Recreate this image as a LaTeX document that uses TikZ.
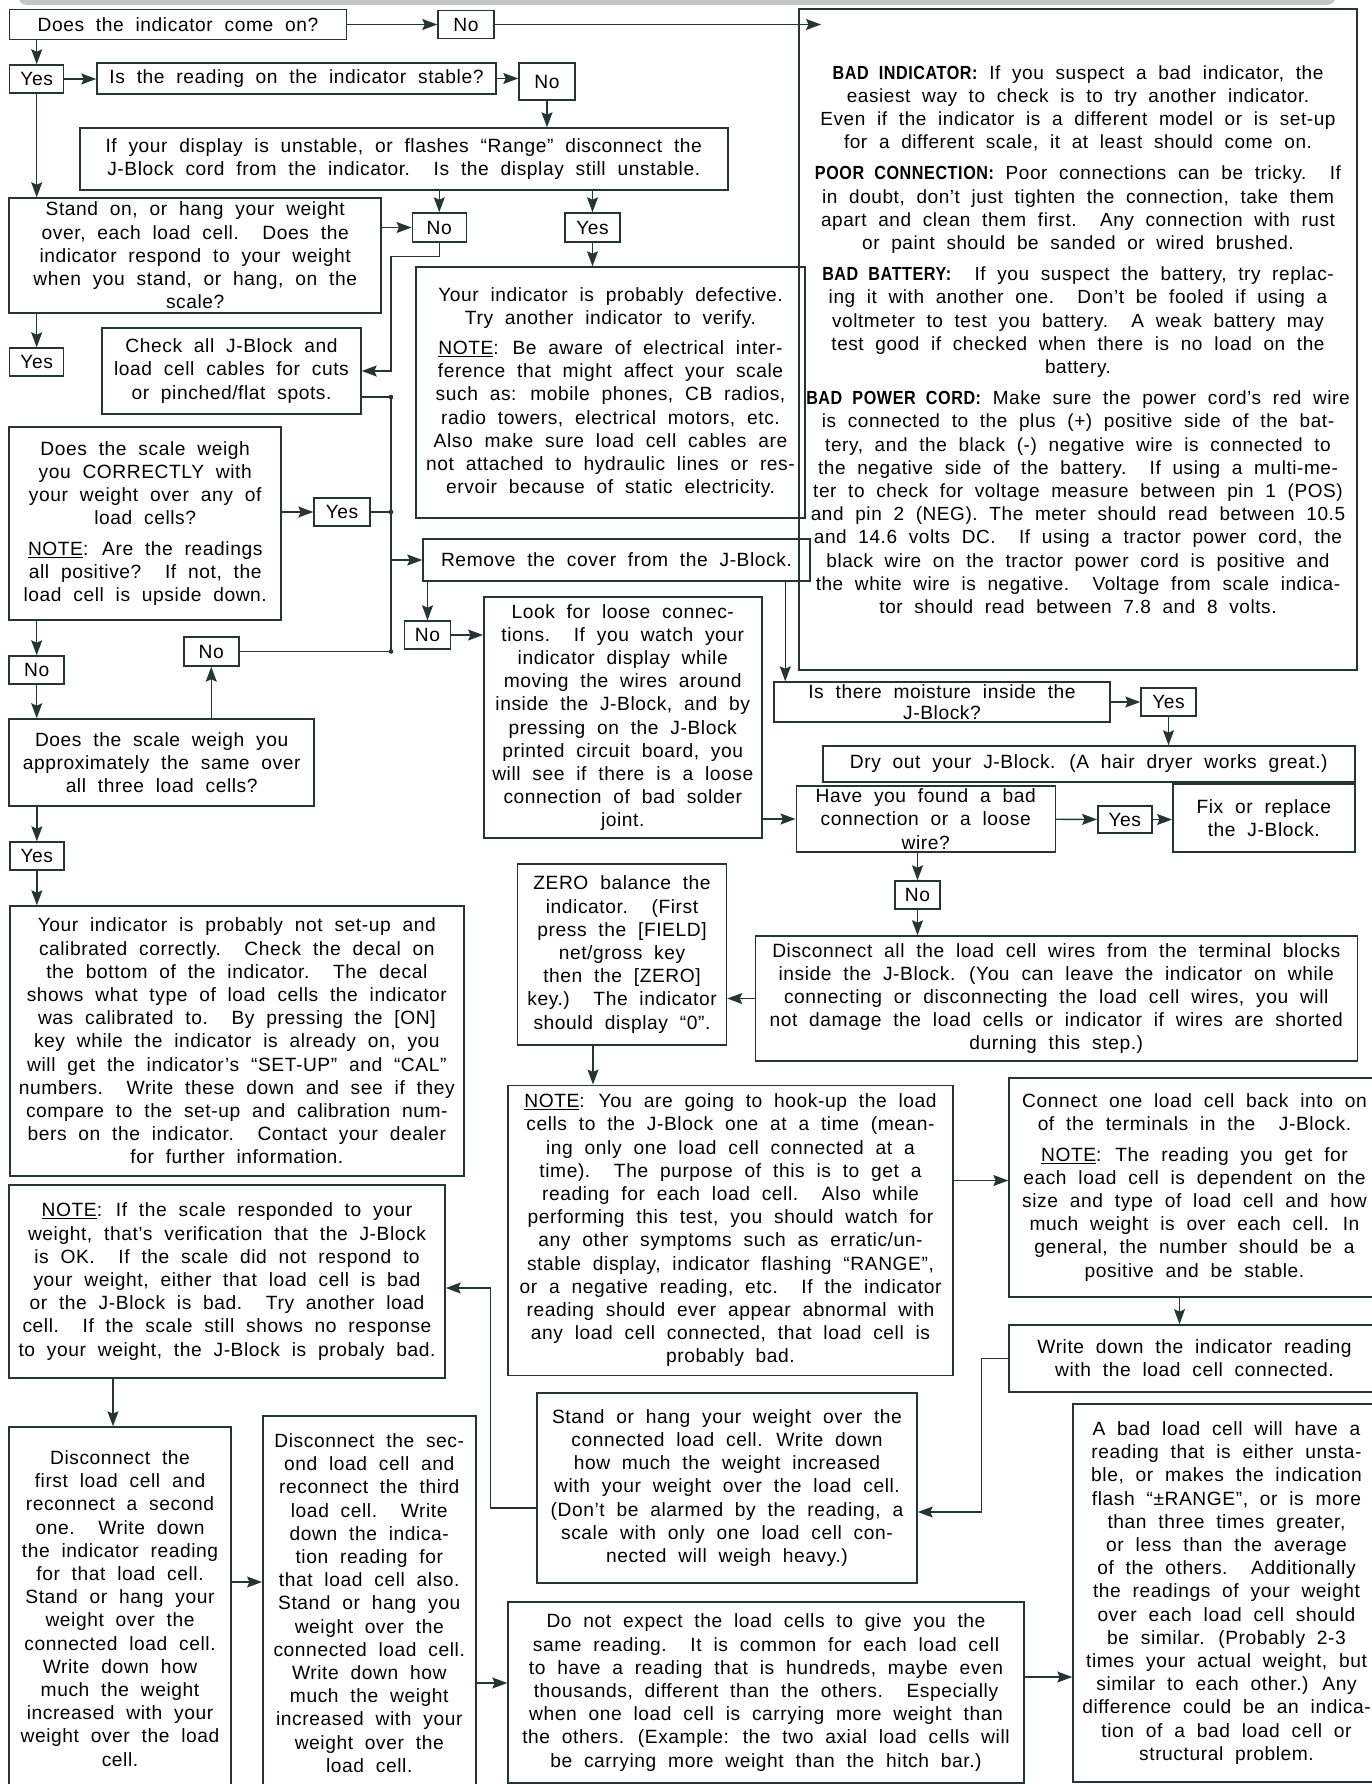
\documentclass[tikz,border=0pt]{standalone}
\usepackage{fontspec}
\setmainfont{Liberation Sans}[LetterSpace=3,WordSpace=2]
\newfontfamily\headfont{Liberation Sans}[FakeStretch=0.85,LetterSpace=3,WordSpace=2]
\usetikzlibrary{arrows.meta}
\definecolor{ink}{HTML}{263434}
\definecolor{barfill}{HTML}{C4C6C6}
\newcommand{\nt}{\underline{NOTE}}
\newcommand{\hd}[1]{{\headfont\bfseries #1}}

\begin{document}
\begin{tikzpicture}[x=1pt,y=-1pt,
  box/.style={draw=ink,line width=1.5pt,inner sep=0pt,align=center,
    font=\fontsize{19.2}{23.2}\selectfont},
  sz/.style 2 args={minimum width=#1pt,minimum height=#2pt},
  flow/.style={ink,line width=1.3pt,-{Stealth[length=15pt,width=11pt,inset=2.5pt]}},
  wire/.style={ink,line width=1.3pt}]
\useasboundingbox (0,0) rectangle (1372,1784);
\fill[barfill,rounded corners=9pt] (18,-20) rectangle (1336,5);

\node[box,sz={337}{30}] (come) at (178,24.5) {Does the indicator come on?};
\node[box,sz={56}{28}] (noon) at (466,24.5) {No};
\node[box,sz={558}{661},font=\fontsize{19}{23.2}\selectfont] (tips) at (1078,339.5)
  {\hd{BAD INDICATOR:} If you suspect a bad indicator, the\\
  easiest way to check is to try another indicator.\\
  Even if the indicator is a different model or is set-up\\
  for a different scale, it at least should come on.\\[8pt]
  \hd{POOR CONNECTION:} Poor connections can be tricky.\ \ If\\
  in doubt, don’t just tighten the connection, take them\\
  apart and clean them first.\ \ Any connection with rust\\
  or paint should be sanded or wired brushed.\\[8pt]
  \hd{BAD BATTERY:}\ \ If you suspect the battery, try replac-\\
  ing it with another one.\ \ Don’t be fooled if using a\\
  voltmeter to test you battery.\ \ A weak battery may\\
  test good if checked when there is no load on the\\
  battery.\\[8pt]
  \hd{BAD POWER CORD:} Make sure the power cord’s red wire\\
  is connected to the plus (+) positive side of the bat-\\
  tery, and the black (-) negative wire is connected to\\
  the negative side of the battery.\ \ If using a multi-me-\\
  ter to check for voltage measure between pin 1 (POS)\\
  and pin 2 (NEG). The meter should read between 10.5\\
  and 14.6 volts DC.\ \ If using a tractor power cord, the\\
  black wire on the tractor power cord is positive and\\
  the white wire is negative.\ \ Voltage from scale indica-\\
  tor should read between 7.8 and 8 volts.};
\coordinate (tipsin) at (821,24.5);
\node[box,sz={54}{28}] (yeson) at (36.7,79) {Yes};
\node[box,sz={399}{31}] (stable) at (296.5,78.5) {Is the reading on the indicator stable?};
\node[box,sz={56}{37}] (nostable) at (547,81.5) {No};
\node[box,sz={648}{62}] (cord) at (403.75,159)
  {If your display is unstable, or flashes “Range” disconnect the\\
  J-Block cord from the indicator.\ \ Is the display still unstable.};
\node[box,sz={372}{115}] (respond) at (195.2,255.5)
  {Stand on, or hang your weight\\
  over, each load cell.\ \ Does the\\
  indicator respond to your weight\\
  when you stand, or hang, on the\\
  scale?};
\node[box,sz={54}{29}] (nocord) at (439.25,227.5) {No};
\node[box,sz={55}{29}] (yescord) at (592.5,227.5) {Yes};
\node[box,sz={389}{251}] (defect) at (610.5,392.5)
  {Your indicator is probably defective.\\
  Try another indicator to verify.\\[7pt]
  \nt: Be aware of electrical inter-\\
  ference that might affect your scale\\
  such as: mobile phones, CB radios,\\
  radio towers, electrical motors, etc.\\
  Also make sure load cell cables are\\
  not attached to hydraulic lines or res-\\
  ervoir because of static electricity.};
\node[box,sz={54}{28}] (yesresp) at (36.7,362) {Yes};
\node[box,sz={259}{86}] (cables) at (231.5,371)
  {Check all J-Block and\\
  load cell cables for cuts\\
  or pinched/flat spots.};
\node[box,sz={272}{193}] (correct) at (145.2,523.5)
  {Does the scale weigh\\
  you CORRECTLY with\\
  your weight over any of\\
  load cells?\\[7pt]
  \nt: Are the readings\\
  all positive?\ \ If not, the\\
  load cell is upside down.};
\node[box,sz={56}{28}] (yescorrect) at (342,512) {Yes};
\node[box,sz={387}{42}] (cover) at (616.5,560) {Remove the cover from the J-Block.};
\node[box,sz={46}{28}] (nocover) at (427.5,635) {No};
\node[box,sz={278}{241}] (loose) at (622.75,717.5)
  {Look for loose connec-\\
  tions.\ \ If you watch your\\
  indicator display while\\
  moving the wires around\\
  inside the J-Block, and by\\
  pressing on the J-Block\\
  printed circuit board, you\\
  will see if there is a loose\\
  connection of bad solder\\
  joint.};
\node[box,sz={55}{28}] (nocorrect) at (36.7,670) {No};
\node[box,sz={55}{29}] (nosame) at (211.25,651.5) {No};
\node[box,sz={305}{87}] (same) at (161.7,762.5)
  {Does the scale weigh you\\
  approximately the same over\\
  all three load cells?};
\node[box,sz={54}{28}] (yessame) at (36.85,856) {Yes};
\node[box,sz={454}{270}] (setup) at (236.85,1041)
  {Your indicator is probably not set-up and\\
  calibrated correctly.\ \ Check the decal on\\
  the bottom of the indicator.\ \ The decal\\
  shows what type of load cells the indicator\\
  was calibrated to.\ \ By pressing the [ON]\\
  key while the indicator is already on, you\\
  will get the indicator’s “SET-UP” and “CAL”\\
  numbers.\ \ Write these down and see if they\\
  compare to the set-up and calibration num-\\
  bers on the indicator.\ \ Contact your dealer\\
  for further information.};
\node[box,sz={336}{40},font=\fontsize{19.2}{20.5}\selectfont] (moist) at (942,702)
  {Is there moisture inside the\\ J-Block?};
\node[box,sz={55}{28}] (yesmoist) at (1168.5,702) {Yes};
\node[box,sz={532}{36}] (dry) at (1088.75,764) {Dry out your J-Block. (A hair dryer works great.)};
\node[box,sz={259}{66}] (found) at (925.75,819)
  {Have you found a bad\\
  connection or a loose\\
  wire?};
\node[box,sz={54}{27}] (yesfound) at (1124.8,819.5) {Yes};
\node[box,sz={182}{68}] (fix) at (1263.8,818) {Fix or replace\\ the J-Block.};
\node[box,sz={45}{28}] (nofound) at (917.5,895) {No};
\node[box,sz={602}{125}] (discall) at (1056.25,998.5)
  {Disconnect all the load cell wires from the terminal blocks\\
  inside the J-Block. (You can leave the indicator on while\\
  connecting or disconnecting the load cell wires, you will\\
  not damage the load cells or indicator if wires are shorted\\
  durning this step.)};
\node[box,sz={209}{181}] (zero) at (622,954.5)
  {ZERO balance the\\
  indicator.\ \ (First\\
  press the [FIELD]\\
  net/gross key\\
  then the [ZERO]\\
  key.)\ \ The indicator\\
  should display “0”.};
\node[box,sz={445}{290}] (hookup) at (730.5,1230.25)
  {\nt: You are going to hook-up the load\\
  cells to the J-Block one at a time (mean-\\
  ing only one load cell connected at a\\
  time).\ \ The purpose of this is to get a\\
  reading for each load cell.\ \ Also while\\
  performing this test, you should watch for\\
  any other symptoms such as erratic/un-\\
  stable display, indicator flashing “RANGE”,\\
  or a negative reading, etc.\ \ If the indicator\\
  reading should ever appear abnormal with\\
  any load cell connected, that load cell is\\
  probably bad.};
\node[box,sz={371}{219}] (connect) at (1194.5,1187.5)
  {Connect one load cell back into on\\
  of the terminals in the\ \ J-Block.\\[7pt]
  \nt: The reading you get for\\
  each load cell is dependent on the\\
  size and type of load cell and how\\
  much weight is over each cell. In\\
  general, the number should be a\\
  positive and be stable.};
\node[box,sz={371}{67}] (write) at (1194.5,1358.4)
  {Write down the indicator reading\\
  with the load cell connected.};
\node[box,sz={380}{190}] (stand) at (727,1488)
  {Stand or hang your weight over the\\
  connected load cell. Write down\\
  how much the weight increased\\
  with your weight over the load cell.\\
  (Don’t be alarmed by the reading, a\\
  scale with only one load cell con-\\
  nected will weigh heavy.)};
\node[box,sz={436}{193}] (verify) at (227,1281.5)
  {\nt: If the scale responded to your\\
  weight, that’s verification that the J-Block\\
  is OK.\ \ If the scale did not respond to\\
  your weight, either that load cell is bad\\
  or the J-Block is bad.\ \ Try another load\\
  cell.\ \ If the scale still shows no response\\
  to your weight, the J-Block is probaly bad.};
\node[box,sz={222}{363}] (first) at (120,1608.5)
  {Disconnect the\\
  first load cell and\\
  reconnect a second\\
  one.\ \ Write down\\
  the indicator reading\\
  for that load cell.\\
  Stand or hang your\\
  weight over the\\
  connected load cell.\\
  Write down how\\
  much the weight\\
  increased with your\\
  weight over the load\\
  cell.};
\node[box,sz={213}{374}] (second) at (369.25,1603)
  {Disconnect the sec-\\
  ond load cell and\\
  reconnect the third\\
  load cell.\ \ Write\\
  down the indica-\\
  tion reading for\\
  that load cell also.\\
  Stand or hang you\\
  weight over the\\
  connected load cell.\\
  Write down how\\
  much the weight\\
  increased with your\\
  weight over the\\
  load cell.};
\node[box,sz={516}{181}] (donot) at (766,1692.5)
  {Do not expect the load cells to give you the\\
  same reading.\ \ It is common for each load cell\\
  to have a reading that is hundreds, maybe even\\
  thousands, different than the others.\ \ Especially\\
  when one load cell is carrying more weight than\\
  the others. (Example: the two axial load cells will\\
  be carrying more weight than the hitch bar.)};
\node[box,sz={307}{378}] (badcell) at (1226.5,1593)
  {A bad load cell will have a\\
  reading that is either unsta-\\
  ble, or makes the indication\\
  flash “±RANGE”, or is more\\
  than three times greater,\\
  or less than the average\\
  of the others.\ \ Additionally\\
  the readings of your weight\\
  over each load cell should\\
  be similar. (Probably 2-3\\
  times your actual weight, but\\
  similar to each other.) Any\\
  difference could be an indica-\\
  tion of a bad load cell or\\
  structural problem.};

\coordinate (bustop) at (391,397);
\coordinate (busend) at (391,651.5);
\coordinate (connectin) at ([yshift=7pt]connect.west);
\coordinate (donotin) at ([yshift=9.5pt]donot.west);

\draw[flow] (come) -- (noon);
\draw[flow] (noon) -- (tipsin);
\draw[flow] (yeson.north |- come.south) -- (yeson.north);
\draw[flow] (yeson) -- (yeson -| stable.west);
\draw[flow] (stable.east) -- (stable.east -| nostable.west);
\draw[flow] (nostable) -- (nostable |- cord.north);
\draw[flow] (yeson) -- (yeson |- respond.north);
\draw[flow] (nocord |- cord.south) -- (nocord);
\draw[flow] (yescord |- cord.south) -- (yescord);
\draw[flow] (respond.east |- nocord) -- (nocord);
\draw[flow] (yescord) -- (yescord |- defect.north);
\draw[flow] (yesresp |- respond.south) -- (yesresp);
\draw[flow] (nocord.south) -- ++(0,14) -| (bustop |- cables.east) -- (cables.east);
\draw[wire] (cables.east |- bustop) -- (bustop) -- (busend) -- (nosame.east);
\draw[wire] (yescorrect) -- (yescorrect -| bustop);
\draw[flow] (bustop |- cover) -- (cover);
\foreach \p in {(bustop),(yescorrect -| bustop),(busend)}
  \fill[ink] \p circle[radius=2.3pt];
\draw[flow] (correct.east |- yescorrect) -- (yescorrect);
\draw[flow] (nocorrect |- correct.south) -- (nocorrect);
\draw[flow] (nocorrect) -- (nocorrect |- same.north);
\draw[flow] (nosame |- same.north) -- (nosame);
\draw[flow] (yessame |- same.south) -- (yessame);
\draw[flow] (yessame) -- (yessame |- setup.north);
\draw[flow] (nocover |- cover.south) -- (nocover);
\draw[flow] (nocover) -- (nocover -| loose.west);
\draw[flow] ([xshift=-25.5pt]cover.south east) -- ([xshift=-25.5pt]cover.south east |- moist.north);
\draw[flow] (moist) -- (yesmoist);
\draw[flow] (yesmoist) -- (yesmoist |- dry.north);
\draw[flow] (loose.east |- found) -- (found);
\draw[flow] (found) -- (yesfound);
\draw[flow] (yesfound.east) -- (yesfound.east -| fix.west);
\draw[flow] (nofound |- found.south) -- (nofound);
\draw[flow] (nofound) -- (nofound |- discall.north);
\draw[flow] (discall.west) -- (discall.west -| zero.east);
\draw[flow] ([xshift=-29pt]zero.south) -- ([xshift=-29pt]zero.south |- hookup.north);
\draw[flow] (hookup.east |- connectin) -- (connectin);
\draw[flow] ([xshift=-15pt]connect.south) -- ([xshift=-15pt]connect.south |- write.north);
\draw[flow] (write.west) -- ++(-27,0) |- ([yshift=-24pt]stand.east);
\draw[flow] ([yshift=-20pt]stand.west) -- ++(-46,0) |- ([yshift=-6.5pt]verify.east);
\draw[flow] ([xshift=-7pt]first.north |- verify.south) -- ([xshift=-7pt]first.north);
\draw[flow] ([yshift=26.5pt]first.east) -- ([yshift=26.5pt]first.east -| second.west);
\draw[flow] (second.east |- donotin) -- (donotin);
\draw[flow] ([yshift=15.5pt]donot.east) -- ([yshift=15.5pt]donot.east -| badcell.west);
\end{tikzpicture}
\end{document}
